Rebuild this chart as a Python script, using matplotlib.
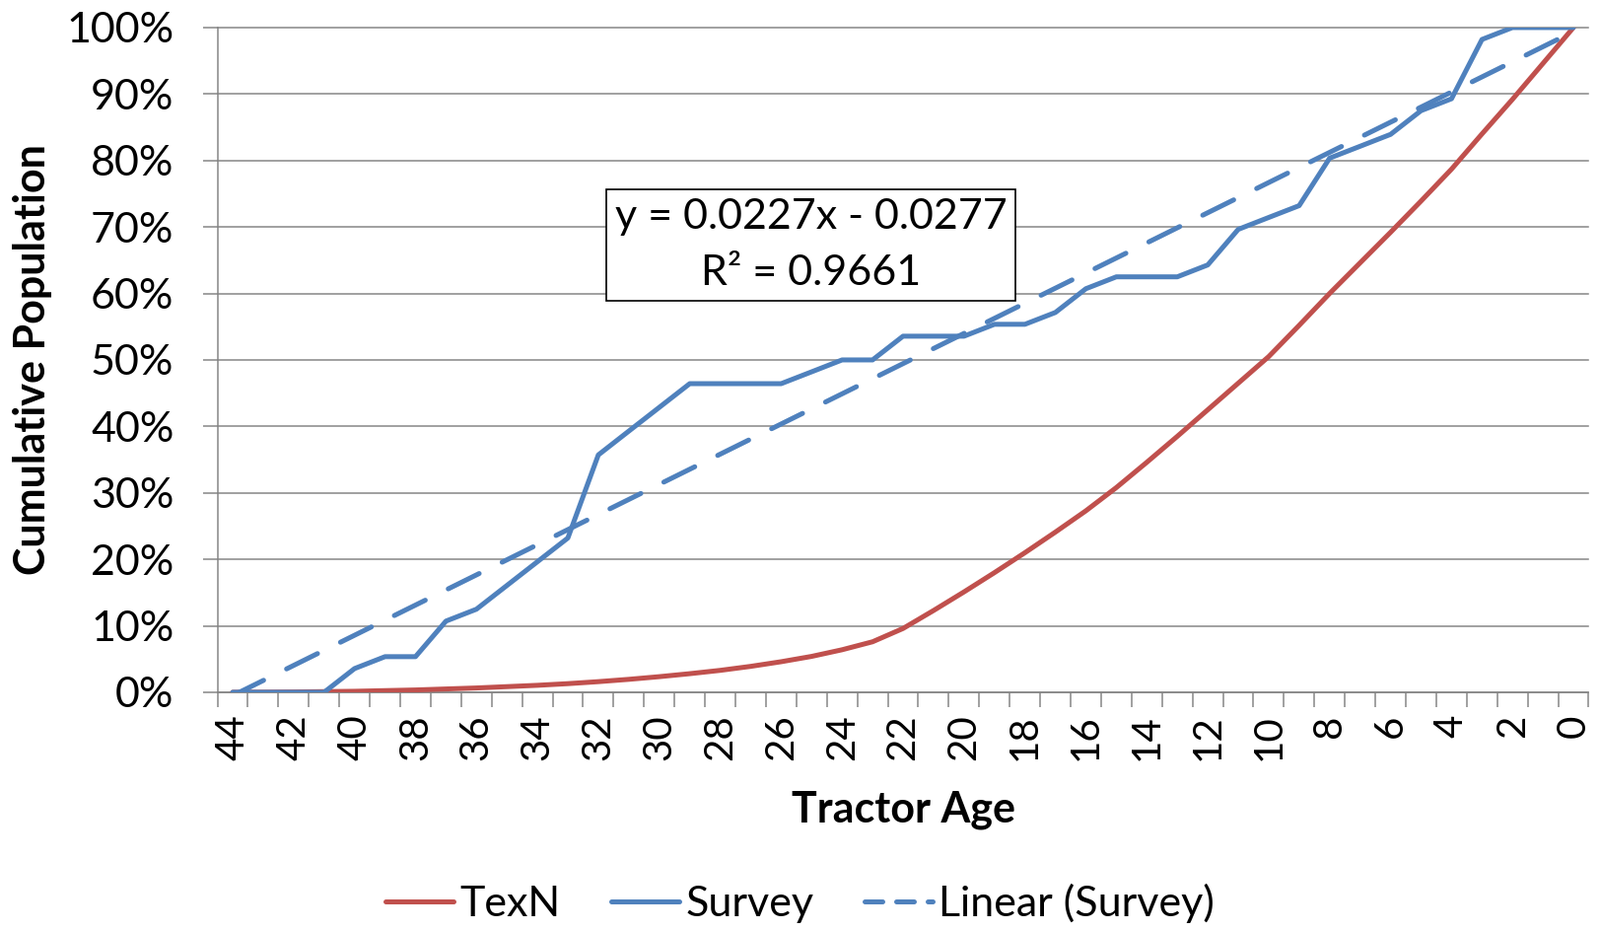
import numpy as np
import matplotlib
matplotlib.use("Agg")
import matplotlib.pyplot as plt
from matplotlib.lines import Line2D

plt.rcParams['font.family'] = ['Lato', 'DejaVu Sans']

# ---------------- data ----------------
ages = list(range(44, -1, -1))
tick_labels = [str(a) for a in ages[::2]]
survey_pct = [0, 0, 0, 0, 3.57, 5.36, 5.36, 10.71, 12.5, 16.07, 19.64, 23.21,
              35.71, 39.29, 42.86, 46.43, 46.43, 46.43, 46.43, 48.21, 50, 50,
              53.57, 53.57, 53.57, 55.36, 55.36, 57.14, 60.71, 62.5, 62.5, 62.5,
              64.29, 69.64, 71.43, 73.21, 80.36, 82.14, 83.93, 87.5, 89.29,
              98.21, 100, 100, 100]
texn_pct = [0.0, 0.02, 0.05, 0.1, 0.15, 0.25, 0.35, 0.5, 0.65, 0.85, 1.05, 1.3,
            1.6, 1.95, 2.35, 2.8, 3.3, 3.9, 4.6, 5.4, 6.4, 7.6, 9.6, 12.3, 15.1,
            18.0, 21.0, 24.1, 27.3, 30.8, 34.6, 38.5, 42.5, 46.5, 50.5, 55.2,
            60.0, 64.6, 69.2, 73.9, 78.7, 84.0, 89.2, 94.6, 100.0]
equation_text = "y = 0.0227x - 0.0277\nR\u00b2 = 0.9661"
series_names = ["TexN", "Survey", "Linear (Survey)"]

RED = '#C0504D'
BLUE = '#4F81BD'
GRID = '#868686'
FS = 31
FS_X = 29

survey = np.array(survey_pct) / 100.0
texn = np.array(texn_pct) / 100.0
xpos = np.arange(len(ages))

# trendline (Excel style x = 1..n)
xx = np.arange(1, len(ages) + 1)
slope, intercept = np.polyfit(xx, survey, 1)
trend = slope * xx + intercept

fig = plt.figure(figsize=(16.23, 9.44), dpi=100)
ax = fig.add_axes([0.1359, 0.2564, 0.857, 0.714])

lw = 3.6
ax.plot(xpos, texn, color=RED, lw=lw, solid_joinstyle='round',
        solid_capstyle='round', zorder=3)
ax.plot(xpos, survey, color=BLUE, lw=lw, solid_joinstyle='round',
        solid_capstyle='round', zorder=4)
ax.plot(xpos, trend, color=BLUE, lw=lw, linestyle=(0, (7.0, 5.2)),
        dash_capstyle='round', zorder=5)

ax.set_xlim(-0.5, len(ages) - 0.5)
ax.set_ylim(0, 1)

ax.set_yticks(np.arange(0, 1.001, 0.1))
ax.set_yticklabels([f"{int(round(v*100))}%" for v in np.arange(0, 1.001, 0.1)],
                   fontsize=FS)
ax.yaxis.grid(True, color=GRID, lw=1.1)
for gl in ax.get_ygridlines():
    gl.set_clip_on(False)
ax.set_axisbelow(True)
ax.tick_params(axis='y', length=10.8, width=1.1, color=GRID, pad=21)

ax.set_xticks(xpos[::2])
ax.set_xticklabels(tick_labels, rotation=90, fontsize=FS_X)
ax.set_xticks(np.arange(-0.5, len(ages), 1), minor=True)
ax.tick_params(axis='x', which='major', length=0, pad=16)
ax.tick_params(axis='x', which='minor', length=10.8, width=1.1, color=GRID)

for s in ['top', 'right']:
    ax.spines[s].set_visible(False)
for s in ['left', 'bottom']:
    ax.spines[s].set_color(GRID)
    ax.spines[s].set_linewidth(1.1)

fig.text(0.5644, 0.1303, "Tractor Age", fontsize=FS, fontweight='bold',
         ha='center', va='center')
fig.text(33/1623, 1 - 365/944, "Cumulative Population", fontsize=FS,
         fontweight='bold', rotation=90, ha='center', va='center')

ax.text(0.433, 0.673, equation_text, transform=ax.transAxes, fontsize=FS,
        ha='center', va='center', multialignment='center', linespacing=1.62,
        bbox=dict(boxstyle='square,pad=0.2', fc='white', ec='black', lw=1.2),
        zorder=6)

handles = [Line2D([], [], color=RED, lw=lw, solid_capstyle='round'),
           Line2D([], [], color=BLUE, lw=lw, solid_capstyle='round'),
           Line2D([], [], color=BLUE, lw=lw, linestyle=(0, (3.6, 2.8)),
                  dash_capstyle='round')]
fig.legend(handles, series_names, loc='center', bbox_to_anchor=(0.5, 0.03),
           ncol=3, frameon=False, fontsize=FS, handlelength=1.6,
           handletextpad=0.15, columnspacing=1.2)

fig.savefig("out.png", dpi=100)
